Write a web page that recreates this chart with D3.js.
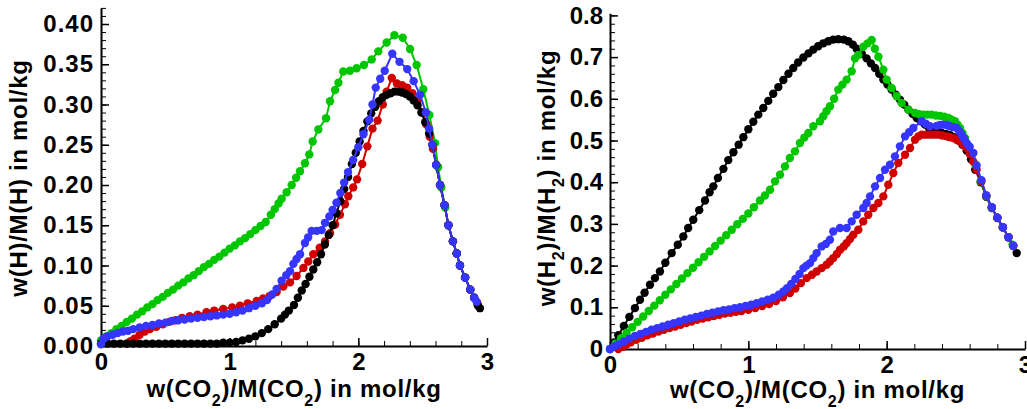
<!DOCTYPE html>
<html>
<head>
<meta charset="utf-8">
<script src="https://cdn.jsdelivr.net/npm/d3@7"></script>
<style>
  html, body { margin: 0; padding: 0; background: #fff; }
  svg { display: block; }
</style>
</head>
<body>
<div id="chart"></div>
<script>
// ---- data ----
// left panel: w(H)/M(H) against w(CO2)/M(CO2)
const leftGreen = [[0,0.007],[0.04,0.012],[0.08,0.016],[0.12,0.021],[0.16,0.025],[0.2,0.03],[0.24,0.034],[0.28,0.039],[0.32,0.043],[0.36,0.048],[0.4,0.052],[0.44,0.057],[0.48,0.061],[0.52,0.066],[0.56,0.07],[0.6,0.075],[0.64,0.079],[0.68,0.084],[0.72,0.088],[0.76,0.093],[0.8,0.098],[0.84,0.102],[0.88,0.107],[0.92,0.111],[0.96,0.116],[1.0,0.121],[1.04,0.125],[1.08,0.13],[1.12,0.134],[1.16,0.139],[1.2,0.144],[1.24,0.149],[1.28,0.154],[1.32,0.163],[1.35,0.17],[1.38,0.177],[1.404,0.183],[1.443,0.191],[1.482,0.2],[1.516,0.209],[1.547,0.217],[1.585,0.227],[1.619,0.238],[1.645,0.254],[1.689,0.269],[1.749,0.283],[1.78,0.304],[1.819,0.318],[1.845,0.327],[1.883,0.341],[1.935,0.342],[1.987,0.345],[2.044,0.349],[2.104,0.356],[2.155,0.366],[2.22,0.377],[2.28,0.386],[2.345,0.383],[2.402,0.369],[2.453,0.349],[2.505,0.319],[2.552,0.287],[2.596,0.252],[2.62,0.222],[2.645,0.197],[2.675,0.172],[2.7,0.15],[2.735,0.13],[2.765,0.115],[2.79,0.1],[2.83,0.085],[2.87,0.07],[2.9,0.06],[2.925,0.052]];
const leftRed = [[0.2,0.003],[0.23,0.006],[0.26,0.009],[0.3,0.014],[0.34,0.018],[0.38,0.021],[0.43,0.024],[0.48,0.027],[0.53,0.03],[0.58,0.032],[0.63,0.035],[0.69,0.037],[0.75,0.039],[0.82,0.042],[0.88,0.044],[0.95,0.046],[1.02,0.048],[1.08,0.05],[1.14,0.053],[1.21,0.056],[1.26,0.059],[1.31,0.062],[1.365,0.067],[1.417,0.074],[1.469,0.079],[1.52,0.087],[1.573,0.097],[1.611,0.105],[1.65,0.114],[1.7,0.122],[1.741,0.13],[1.78,0.14],[1.82,0.151],[1.857,0.163],[1.896,0.176],[1.922,0.186],[1.96,0.197],[1.99,0.207],[2.03,0.226],[2.07,0.248],[2.11,0.27],[2.15,0.28],[2.19,0.3],[2.22,0.316],[2.26,0.333],[2.3,0.326],[2.34,0.324],[2.38,0.321],[2.42,0.314],[2.46,0.305],[2.5,0.29],[2.53,0.275],[2.555,0.26],[2.58,0.245],[2.605,0.225],[2.635,0.2],[2.67,0.175],[2.7,0.15],[2.735,0.13],[2.765,0.115],[2.79,0.1],[2.83,0.085],[2.87,0.07],[2.9,0.06],[2.925,0.053]];
const leftBlack = [[0,0.003],[0.05,0.003],[0.1,0.003],[0.15,0.003],[0.2,0.003],[0.25,0.003],[0.3,0.003],[0.35,0.003],[0.4,0.003],[0.45,0.003],[0.5,0.003],[0.55,0.003],[0.6,0.003],[0.65,0.003],[0.7,0.003],[0.75,0.003],[0.8,0.003],[0.85,0.003],[0.9,0.003],[0.95,0.004],[1.0,0.004],[1.05,0.005],[1.1,0.007],[1.15,0.009],[1.2,0.012],[1.25,0.016],[1.3,0.021],[1.35,0.027],[1.4,0.034],[1.43,0.039],[1.46,0.044],[1.5,0.051],[1.53,0.06],[1.56,0.069],[1.59,0.077],[1.62,0.086],[1.65,0.095],[1.68,0.104],[1.71,0.114],[1.74,0.126],[1.77,0.138],[1.8,0.15],[1.83,0.165],[1.86,0.18],[1.89,0.195],[1.92,0.21],[1.95,0.226],[1.98,0.24],[2.01,0.254],[2.04,0.267],[2.07,0.279],[2.1,0.289],[2.13,0.297],[2.16,0.304],[2.19,0.309],[2.22,0.312],[2.25,0.314],[2.28,0.316],[2.31,0.316],[2.34,0.315],[2.37,0.313],[2.4,0.31],[2.43,0.305],[2.46,0.299],[2.49,0.29],[2.52,0.278],[2.55,0.264],[2.575,0.25],[2.605,0.225],[2.635,0.2],[2.67,0.175],[2.7,0.15],[2.735,0.13],[2.765,0.115],[2.79,0.1],[2.83,0.085],[2.87,0.07],[2.9,0.06],[2.93,0.05],[2.945,0.047]];
const leftBlue = [[0,0.002],[0.02,0.009],[0.05,0.012],[0.09,0.014],[0.13,0.016],[0.17,0.018],[0.21,0.019],[0.25,0.021],[0.3,0.023],[0.35,0.025],[0.4,0.026],[0.45,0.028],[0.5,0.029],[0.55,0.031],[0.6,0.032],[0.65,0.033],[0.7,0.034],[0.75,0.035],[0.8,0.036],[0.85,0.037],[0.9,0.038],[0.95,0.039],[1.0,0.04],[1.05,0.042],[1.1,0.044],[1.15,0.047],[1.2,0.05],[1.25,0.053],[1.29,0.057],[1.33,0.064],[1.365,0.071],[1.404,0.081],[1.44,0.088],[1.469,0.093],[1.495,0.102],[1.52,0.108],[1.547,0.114],[1.585,0.128],[1.61,0.135],[1.637,0.143],[1.676,0.143],[1.715,0.144],[1.741,0.153],[1.775,0.161],[1.8,0.169],[1.83,0.178],[1.86,0.19],[1.89,0.203],[1.92,0.216],[1.96,0.231],[2.0,0.247],[2.04,0.263],[2.085,0.281],[2.11,0.3],[2.135,0.321],[2.17,0.332],[2.205,0.342],[2.264,0.363],[2.32,0.353],[2.38,0.344],[2.43,0.329],[2.48,0.312],[2.525,0.29],[2.55,0.27],[2.575,0.25],[2.605,0.225],[2.635,0.2],[2.67,0.175],[2.7,0.15],[2.735,0.13],[2.765,0.115],[2.79,0.1],[2.83,0.085],[2.87,0.07],[2.9,0.06],[2.92,0.055]];

// right panel: w(H2)/M(H2) against w(CO2)/M(CO2)
const rightBlack = [[0,0],[0.03,0.016],[0.06,0.033],[0.1,0.055],[0.14,0.077],[0.18,0.098],[0.217,0.118],[0.25,0.135],[0.289,0.154],[0.325,0.17],[0.361,0.186],[0.4,0.207],[0.446,0.23],[0.49,0.25],[0.53,0.27],[0.565,0.29],[0.602,0.31],[0.645,0.333],[0.687,0.356],[0.72,0.376],[0.747,0.39],[0.78,0.41],[0.82,0.432],[0.855,0.453],[0.892,0.472],[0.93,0.49],[0.964,0.508],[1.0,0.527],[1.036,0.545],[1.072,0.562],[1.108,0.578],[1.144,0.595],[1.18,0.612],[1.217,0.628],[1.253,0.645],[1.29,0.66],[1.325,0.674],[1.36,0.687],[1.398,0.699],[1.435,0.709],[1.47,0.718],[1.505,0.726],[1.542,0.733],[1.578,0.738],[1.614,0.742],[1.65,0.743],[1.69,0.742],[1.723,0.738],[1.755,0.73],[1.783,0.72],[1.82,0.708],[1.855,0.697],[1.886,0.685],[1.916,0.674],[1.946,0.66],[1.976,0.646],[2.006,0.634],[2.036,0.622],[2.066,0.61],[2.096,0.598],[2.127,0.586],[2.157,0.574],[2.187,0.564],[2.217,0.554],[2.247,0.546],[2.277,0.538],[2.307,0.53],[2.337,0.524],[2.368,0.52],[2.398,0.518],[2.428,0.516],[2.458,0.513],[2.488,0.508],[2.518,0.5],[2.548,0.49],[2.578,0.476],[2.61,0.455],[2.64,0.43],[2.68,0.4],[2.72,0.365],[2.76,0.338],[2.8,0.314],[2.84,0.291],[2.88,0.268],[2.915,0.248],[2.94,0.23]];
const rightGreen = [[0,0],[0.04,0.013],[0.08,0.026],[0.12,0.039],[0.16,0.052],[0.2,0.065],[0.24,0.078],[0.28,0.091],[0.32,0.104],[0.36,0.117],[0.4,0.13],[0.44,0.143],[0.48,0.156],[0.52,0.169],[0.56,0.182],[0.6,0.195],[0.64,0.208],[0.68,0.221],[0.72,0.234],[0.76,0.247],[0.8,0.26],[0.84,0.273],[0.88,0.286],[0.92,0.299],[0.96,0.312],[1.0,0.325],[1.04,0.34],[1.084,0.356],[1.12,0.368],[1.157,0.382],[1.193,0.402],[1.229,0.418],[1.265,0.438],[1.3,0.458],[1.337,0.474],[1.373,0.494],[1.405,0.507],[1.434,0.518],[1.47,0.534],[1.518,0.546],[1.542,0.558],[1.565,0.57],[1.59,0.582],[1.62,0.6],[1.65,0.622],[1.68,0.634],[1.711,0.646],[1.747,0.666],[1.771,0.697],[1.795,0.705],[1.831,0.725],[1.862,0.733],[1.892,0.741],[1.915,0.72],[1.94,0.701],[1.976,0.67],[2.0,0.646],[2.036,0.626],[2.072,0.606],[2.108,0.59],[2.157,0.574],[2.205,0.566],[2.235,0.563],[2.265,0.562],[2.295,0.562],[2.325,0.562],[2.356,0.56],[2.386,0.559],[2.416,0.557],[2.446,0.554],[2.47,0.55],[2.494,0.546],[2.513,0.538],[2.53,0.53],[2.548,0.518],[2.566,0.506],[2.59,0.488],[2.614,0.47],[2.64,0.443],[2.68,0.402],[2.72,0.366],[2.76,0.339],[2.8,0.315],[2.84,0.292],[2.88,0.268],[2.91,0.25]];
const rightRed = [[0.06,0],[0.09,0.005],[0.12,0.011],[0.15,0.016],[0.19,0.022],[0.23,0.027],[0.27,0.033],[0.31,0.037],[0.35,0.042],[0.39,0.046],[0.43,0.05],[0.47,0.054],[0.51,0.058],[0.55,0.062],[0.59,0.066],[0.63,0.07],[0.67,0.073],[0.71,0.076],[0.75,0.079],[0.79,0.082],[0.83,0.085],[0.87,0.087],[0.91,0.089],[0.95,0.091],[1.0,0.094],[1.05,0.098],[1.1,0.103],[1.15,0.108],[1.2,0.115],[1.25,0.124],[1.3,0.134],[1.34,0.145],[1.38,0.158],[1.422,0.17],[1.46,0.178],[1.494,0.186],[1.53,0.194],[1.566,0.202],[1.59,0.21],[1.614,0.218],[1.64,0.228],[1.663,0.238],[1.69,0.246],[1.711,0.254],[1.735,0.264],[1.759,0.274],[1.795,0.286],[1.831,0.306],[1.867,0.322],[1.904,0.338],[1.94,0.35],[1.976,0.366],[2.012,0.394],[2.048,0.422],[2.084,0.446],[2.133,0.466],[2.169,0.482],[2.205,0.502],[2.23,0.51],[2.253,0.514],[2.283,0.514],[2.313,0.514],[2.343,0.514],[2.373,0.514],[2.404,0.512],[2.434,0.51],[2.458,0.508],[2.482,0.506],[2.506,0.502],[2.53,0.498],[2.555,0.49],[2.578,0.482],[2.6,0.468],[2.625,0.45],[2.65,0.43],[2.685,0.402],[2.72,0.368],[2.76,0.34],[2.8,0.315],[2.84,0.292],[2.88,0.268],[2.915,0.247]];
const rightBlue = [[0,0],[0.03,0.006],[0.06,0.011],[0.1,0.018],[0.14,0.025],[0.18,0.031],[0.22,0.036],[0.26,0.041],[0.3,0.046],[0.34,0.05],[0.38,0.054],[0.42,0.058],[0.46,0.062],[0.5,0.066],[0.54,0.07],[0.58,0.073],[0.62,0.077],[0.66,0.08],[0.7,0.084],[0.74,0.087],[0.78,0.09],[0.82,0.093],[0.86,0.095],[0.9,0.098],[0.94,0.1],[0.98,0.103],[1.02,0.106],[1.06,0.11],[1.1,0.114],[1.14,0.118],[1.18,0.123],[1.22,0.13],[1.253,0.138],[1.28,0.146],[1.31,0.156],[1.34,0.168],[1.37,0.18],[1.398,0.194],[1.42,0.2],[1.446,0.206],[1.47,0.218],[1.494,0.23],[1.53,0.246],[1.56,0.252],[1.59,0.262],[1.614,0.282],[1.663,0.29],[1.711,0.29],[1.747,0.306],[1.783,0.322],[1.831,0.338],[1.855,0.35],[1.88,0.366],[1.916,0.39],[1.952,0.41],[1.988,0.43],[2.024,0.442],[2.06,0.462],[2.096,0.486],[2.133,0.51],[2.163,0.52],[2.193,0.53],[2.253,0.546],[2.283,0.54],[2.313,0.534],[2.361,0.535],[2.385,0.537],[2.41,0.538],[2.435,0.537],[2.458,0.534],[2.482,0.532],[2.506,0.53],[2.525,0.522],[2.542,0.514],[2.56,0.505],[2.578,0.494],[2.6,0.485],[2.627,0.47],[2.65,0.44],[2.685,0.405],[2.72,0.368],[2.76,0.34],[2.8,0.315],[2.84,0.292],[2.88,0.268],[2.915,0.247]];

// ticks
const xTicks = [0, 1, 2, 3];
const leftYTicks = [0, 0.05, 0.10, 0.15, 0.20, 0.25, 0.30, 0.35, 0.40];
const rightYTicks = [0, 0.1, 0.2, 0.3, 0.4, 0.5, 0.6, 0.7, 0.8];

const colors = { green: "#00c600", red: "#d00000", black: "#000000", blue: "#3535ff" };
const FONT = '"Liberation Sans", Arial, Helvetica, sans-serif';

const W = 1027, H = 409;
const svg = d3.select("#chart").append("svg")
    .attr("width", W).attr("height", H)
    .attr("viewBox", `0 0 ${W} ${H}`)
    .style("font-family", FONT)
    .style("font-weight", "bold");

function drawPanel(cfg) {
    const x = d3.scaleLinear().domain([0, 3]).range(cfg.xRange);
    const y = d3.scaleLinear().domain(cfg.yDomain).range(cfg.yRange);
    const g = svg.append("g");
    const y0 = y(0), x0 = x(0);

    // minor ticks (inside)
    g.append("g").attr("transform", `translate(0,${y0})`)
        .call(d3.axisBottom(x).tickValues(d3.range(0, 3.001, 0.2)).tickSize(-5).tickFormat(""))
        .call(a => a.select(".domain").remove());
    g.append("g").attr("transform", `translate(${x0},0)`)
        .call(d3.axisLeft(y).tickValues(d3.range(0, cfg.yDomain[1] + 1e-9, cfg.yMinor)).tickSize(-5).tickFormat(""))
        .call(a => a.select(".domain").remove());

    // major ticks + labels
    const xa = g.append("g").attr("transform", `translate(0,${y0})`)
        .call(d3.axisBottom(x).tickValues(xTicks).tickSize(-8).tickSizeOuter(0).tickPadding(7).tickFormat(d3.format("d")));
    const ya = g.append("g").attr("transform", `translate(${x0},0)`)
        .call(d3.axisLeft(y).tickValues(cfg.yTicks).tickSize(-8).tickSizeOuter(0).tickPadding(7).tickFormat(cfg.yFormat));

    [xa, ya].forEach(a => {
        a.select(".domain").attr("stroke-width", 2);
        a.selectAll(".tick line").attr("stroke-width", 1.5);
        a.selectAll("text").attr("font-family", FONT).attr("font-weight", "bold")
            .attr("font-size", cfg.tickFont).attr("fill", "#000");
    });
    ya.selectAll("text").style("letter-spacing", cfg.tickSpacing + "px");
    g.selectAll(".tick line").attr("stroke", "#000");

    // series
    const line = d3.line().x(d => x(d[0])).y(d => y(d[1]));
    cfg.series.forEach(s => {
        const sg = g.append("g");
        sg.append("path").datum(s.data)
            .attr("fill", "none").attr("stroke", s.color).attr("stroke-width", 2)
            .attr("d", line);
        sg.selectAll("circle").data(s.data).join("circle")
            .attr("cx", d => x(d[0])).attr("cy", d => y(d[1]))
            .attr("r", 4.2).attr("fill", s.color);
    });

    // x title with subscripts
    const xt = g.append("text")
        .attr("x", (cfg.xRange[0] + cfg.xRange[1]) / 2).attr("y", cfg.xTitleY)
        .attr("text-anchor", "middle").attr("font-size", 24)
        .style("letter-spacing", "0.7px");
    addSubText(xt, [["w(CO", 0], ["2", 1], [")/M(CO", 0], ["2", 1], [") in mol/kg", 0]]);

    // y title, rotated
    const yt = g.append("text")
        .attr("transform", `translate(${cfg.yTitleX},${cfg.yTitleY}) rotate(-90)`)
        .attr("text-anchor", "middle").attr("font-size", 24)
        .style("letter-spacing", "0.7px");
    addSubText(yt, cfg.yTitle);
}

function addSubText(text, parts) {
    let shift = 0;
    parts.forEach(([str, sub]) => {
        const target = sub ? 9 : 0;
        text.append("tspan")
            .attr("dy", target - shift)
            .attr("font-size", sub ? 16 : 24)
            .text(str);
        shift = target;
    });
}

drawPanel({
    xRange: [101, 487],
    yDomain: [0, 0.42],
    yRange: [346, 346 - 0.42 * 805],
    yTicks: leftYTicks,
    yMinor: 0.01,
    yFormat: d3.format(".2f"),
    tickFont: 24,
    tickSpacing: 1,
    xTitleY: 397,
    yTitleX: 27,
    yTitleY: 178,
    yTitle: [["w(H)/M(H) in mol/kg", 0]],
    series: [
        { data: leftGreen, color: colors.green },
        { data: leftRed, color: colors.red },
        { data: leftBlack, color: colors.black },
        { data: leftBlue, color: colors.blue }
    ]
});

drawPanel({
    xRange: [610, 1025],
    yDomain: [0, 0.805],
    yRange: [349, 349 - 0.805 * 417],
    yTicks: rightYTicks,
    yMinor: 0.02,
    yFormat: d => d === 0 ? "0" : d3.format(".1f")(d),
    tickFont: 24,
    tickSpacing: 0,
    xTitleY: 398,
    yTitleX: 555,
    yTitleY: 178,
    yTitle: [["w(H", 0], ["2", 1], [")/M(H", 0], ["2", 1], [") in mol/kg", 0]],
    series: [
        { data: rightBlack, color: colors.black },
        { data: rightGreen, color: colors.green },
        { data: rightRed, color: colors.red },
        { data: rightBlue, color: colors.blue }
    ]
});
</script>
</body>
</html>
